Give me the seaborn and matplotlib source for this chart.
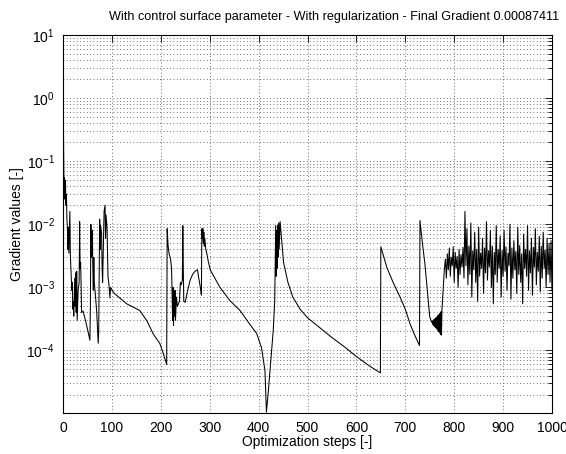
import matplotlib
matplotlib.use('Agg')
import matplotlib.pyplot as plt
import seaborn as sns
import pandas as pd
import numpy as np
from matplotlib import font_manager as fm
from matplotlib.ticker import FixedLocator, FixedFormatter, LogLocator, NullFormatter

# ---------------- data ----------------
title_text = "With control surface parameter - With regularization - Final Gradient 0.00087411"
x_label = "Optimization steps [-]"
y_label = "Gradient values [-]"
x_ticks = [0, 100, 200, 300, 400, 500, 600, 700, 800, 900, 1000]
y_ticks = [1e-4, 1e-3, 1e-2, 1e-1, 1e0, 1e1]
y_tick_labels = ["$10^{-4}$", "$10^{-3}$", "$10^{-2}$", "$10^{-1}$", "$10^{0}$", "$10^{1}$"]

# early spiky phase (steps 1-100) and first smooth decay
early_steps = [1, 2, 3, 4, 5, 6, 7, 8, 9, 10, 11, 12, 13, 14, 15, 16, 18, 19, 20, 21,
               22, 24, 25, 26, 27, 28, 29, 31, 33, 34, 35, 36, 37, 38, 41, 45, 50, 55, 56, 57,
               58, 59, 60, 61, 62, 63, 64, 66, 69, 72, 73, 75, 76, 77, 79, 80, 81, 82, 84, 86,
               87, 88, 90, 92, 94, 96, 97, 99, 100, 106, 130, 157, 171, 185, 198, 206, 212]
early_grad = [0.27, 0.04, 0.055, 0.025, 0.05, 0.02, 0.03, 0.012, 0.009, 0.004, 0.009, 0.0035,
              0.008, 0.016, 0.0034, 0.0021, 0.0009, 0.0012, 0.00045, 0.0006,
              0.00035, 0.0014, 0.0005, 0.0017, 0.0004, 0.0018, 0.0003, 0.0009, 0.0012, 0.011,
              0.002, 0.0025, 0.0011, 0.0004, 0.00042, 0.00032, 0.00022, 0.000145, 0.0005, 0.01,
              0.003, 0.0034, 0.008, 0.0021, 0.0009, 0.003, 0.0012, 0.0008, 0.0004, 0.00013,
              0.0002, 0.012, 0.004, 0.0095, 0.007, 0.002, 0.0012, 0.003, 0.016, 0.02,
              0.006, 0.014, 0.009, 0.0015, 0.0011, 0.00068, 0.001, 0.00095, 0.0009, 0.00079,
              0.00055, 0.00043, 0.0003, 0.00018, 0.000129, 0.000085, 0.00006]

# second phase (213-300) and long decay with dip near 415
mid_steps = [213, 215, 217, 220, 222, 223, 224, 225, 226, 227, 228, 229, 230, 232, 234, 236,
             238, 240, 242, 244, 245, 246, 247, 250, 255, 260, 265, 270, 275, 277, 280, 283,
             284, 285, 286, 287, 288, 289, 290, 292, 294, 297, 301, 321, 341, 362, 382, 396,
             406, 413, 416, 420, 427, 430, 433, 435, 436, 437, 438, 439, 440, 441, 442, 444,
             451, 460, 470, 485, 500, 525, 550, 575, 600, 625, 649]
mid_grad = [0.0085, 0.0045, 0.0034, 0.0028, 0.002, 0.0009, 0.0003, 0.001, 0.00025, 0.0008,
            0.00035, 0.0009, 0.0003, 0.0007, 0.0005, 0.00055,
            0.0006, 0.0012, 0.0011, 0.0013, 0.0095, 0.002, 0.0006, 0.00058, 0.0009, 0.0013,
            0.0016, 0.0018, 0.0019, 0.0015, 0.0011, 0.00075,
            0.0085, 0.006, 0.0085, 0.005, 0.0075, 0.0045, 0.006, 0.004, 0.0035, 0.0026,
            0.0019, 0.001, 0.00062, 0.00043, 0.00026, 0.000186,
            0.00011, 0.000048, 0.0000105, 0.000023, 0.00011, 0.00021, 0.00062, 0.0096,
            0.0015, 0.008, 0.002, 0.0095, 0.003, 0.0105, 0.004, 0.011,
            0.0025, 0.0012, 0.0007, 0.00045, 0.00033, 0.00023, 0.00016, 0.000115, 0.00008,
            0.000058, 0.000044]

# late phase: two jumps and decays (650-754)
late_steps = [650, 662, 675, 689, 700, 710, 720, 729, 730, 735, 740, 745, 750, 754]
late_grad = [0.0044, 0.0021, 0.0012, 0.00071, 0.00045, 0.00026, 0.00017, 0.00012,
             0.0115, 0.005, 0.0024, 0.0009, 0.00034, 0.00028]

# narrow oscillation (triangle) from step 755, one value per step
tri_grad = [0.00029, 0.00026, 0.0003, 0.00025, 0.00031, 0.00024, 0.00032, 0.00023,
            0.00033, 0.00022, 0.00034, 0.00021, 0.00036, 0.0002, 0.00037, 0.00019,
            0.00039, 0.00018, 0.00041, 0.000175, 0.00045, 0.0006, 0.0008, 0.001, 0.0014,
            0.002]

# noisy final phase from step 782, one value every 2 steps
noise_grad = [2.8e-3, 1.4e-3, 3.4e-3, 1.9e-3, 4.2e-3, 1.5e-3, 3.0e-3, 2.2e-3, 4.4e-3, 1.2e-3,
              3.6e-3, 2.0e-3, 3.1e-3, 1.0e-3, 4.0e-3, 1.6e-3, 3.3e-3, 2.1e-3, 4.3e-3, 1.4e-3,
              1.6e-2, 2.2e-3, 8.5e-3, 1.1e-3, 4.5e-3, 1.6e-3, 1.05e-2, 7.0e-4, 3.8e-3, 1.9e-3,
              7.5e-3, 1.2e-3, 4.0e-3, 6.0e-4, 9.0e-3, 1.5e-3, 3.5e-3, 2.0e-3, 6.0e-3, 8.0e-4,
              4.2e-3, 1.7e-3, 1.1e-2, 1.3e-3, 3.8e-3, 2.1e-3, 8.0e-3, 1.0e-3, 4.5e-3, 5.5e-4,
              3.6e-3, 1.6e-3, 9.5e-3, 1.2e-3, 4.0e-3, 2.0e-3, 6.5e-3, 7.0e-4, 3.9e-3, 1.5e-3,
              8.0e-3, 1.8e-3, 4.4e-3, 9.0e-4, 3.5e-3, 2.2e-3, 1.0e-2, 6.5e-4, 4.2e-3, 1.4e-3,
              5.5e-3, 1.9e-3, 3.7e-3, 8.0e-4, 9.0e-3, 1.6e-3, 4.6e-3, 1.2e-3, 3.4e-3, 5.5e-4,
              7.0e-3, 2.0e-3, 4.0e-3, 1.5e-3, 9.5e-3, 9.0e-4, 3.8e-3, 1.7e-3, 6.0e-3, 7.5e-4,
              4.3e-3, 2.1e-3, 8.5e-3, 1.1e-3, 3.6e-3, 1.8e-3, 6.5e-3, 8.5e-4, 4.5e-3, 1.4e-3,
              7.5e-3, 2.0e-3, 3.9e-3, 1.0e-3, 6.0e-3, 1.6e-3, 4.8e-3, 1.2e-3, 5.5e-3, 8.7e-4]

tri_steps = list(755 + np.arange(len(tri_grad)))
noise_steps = list(782 + 2 * np.arange(len(noise_grad)))

df = pd.DataFrame({
    "step": early_steps + mid_steps + late_steps + tri_steps + noise_steps,
    "gradient": early_grad + mid_grad + late_grad + tri_grad + noise_grad,
})

# ---------------- styling ----------------
sns.set_style("white")
names = {f.name for f in fm.fontManager.ttflist}
main_font = "Liberation Sans Narrow" if "Liberation Sans Narrow" in names else "Liberation Sans"
plt.rcParams["font.family"] = [main_font, "DejaVu Sans"]
plt.rcParams["mathtext.default"] = "regular"
plt.rcParams["axes.unicode_minus"] = True

W, H = 566, 454
fig = plt.figure(figsize=(W / 100, H / 100), dpi=100)
fig.patch.set_facecolor("white")
ax = fig.add_axes([63 / W, 1 - 413 / H, (552 - 63) / W, (413 - 35) / H])

sns.lineplot(data=df, x="step", y="gradient", ax=ax, color="black", lw=0.75,
             estimator=None, sort=False)

ax.set_yscale("log")
ax.set_xlim(0, 1000)
ax.set_ylim(1.02e-5, 10)

ax.xaxis.set_major_locator(FixedLocator(x_ticks))
ax.set_xticklabels([str(t) for t in x_ticks])
ax.yaxis.set_major_locator(FixedLocator(y_ticks))
ax.yaxis.set_major_formatter(FixedFormatter(y_tick_labels))
ax.yaxis.set_minor_locator(LogLocator(base=10, subs=np.arange(2, 10)))
ax.yaxis.set_minor_formatter(NullFormatter())

ax.tick_params(which="both", direction="in", top=True, right=True, colors="black",
               labelsize=10, width=0.6)
ax.tick_params(which="major", length=5, pad=6)
ax.tick_params(which="minor", length=3)

grid_kw = dict(linestyle=(0, (1, 3)), color="0.25", linewidth=0.6)
ax.grid(True, which="major", axis="both", **grid_kw)
ax.grid(True, which="minor", axis="y", **grid_kw)

for s in ax.spines.values():
    s.set_color("black")
    s.set_linewidth(0.8)

ax.set_xlabel(x_label, fontsize=10, color="black")
ax.set_ylabel(y_label, fontsize=10, color="black")
ax.xaxis.set_label_coords(0.5, -0.058)
ax.yaxis.set_label_coords(-0.080, 0.5)

fig.text(334 / W, 1 - 17 / H, title_text, ha="center", va="center", fontsize=9.1,
         color="black")

fig.savefig("out.png", dpi=100, facecolor="white")
